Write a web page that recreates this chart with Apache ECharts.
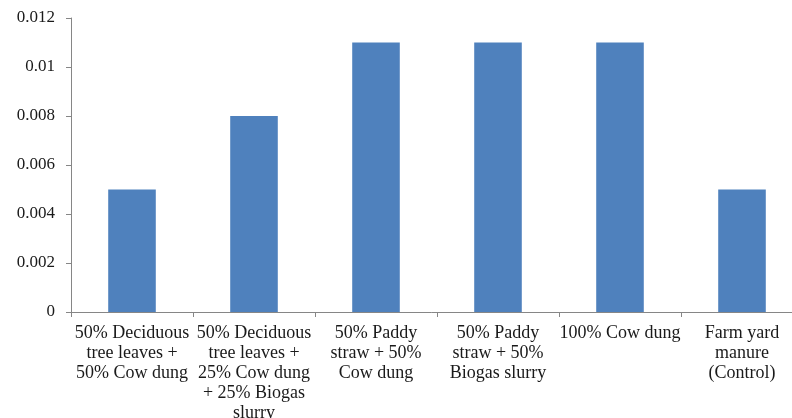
<!DOCTYPE html>
<html>
<head>
<meta charset="utf-8">
<script src="https://cdn.jsdelivr.net/npm/echarts@6/dist/echarts.min.js"></script>
<style>
  html, body { margin: 0; padding: 0; background: #fff; }
  #chart { width: 792px; height: 418px; }
</style>
</head>
<body>
<div id="chart"></div>
<script>
// Treatments (category labels, broken over lines as printed)
const categories = [
  '50% Deciduous\ntree leaves +\n50% Cow dung',
  '50% Deciduous\ntree leaves +\n25% Cow dung\n+ 25% Biogas\nslurry',
  '50% Paddy\nstraw + 50%\nCow dung',
  '50% Paddy\nstraw + 50%\nBiogas slurry',
  '100% Cow dung',
  'Farm yard\nmanure\n(Control)'
];
// Measured value per treatment
const values = [0.005, 0.008, 0.011, 0.011, 0.011, 0.005];
// Value axis range
const yMin = 0, yMax = 0.012, yStep = 0.002;

const serif = '"Liberation Serif", "DejaVu Serif", serif';
const chart = echarts.init(document.getElementById('chart'));
chart.setOption({
  animation: false,
  grid: {
    left: 71, right: -11, top: 18, bottom: 106,
    containLabel: false,
    outerBoundsMode: 'none'
  },
  xAxis: {
    type: 'category',
    data: categories,
    axisLine: { lineStyle: { color: '#868686', width: 1 } },
    axisTick: { show: true, length: 5, lineStyle: { color: '#868686' } },
    axisLabel: {
      interval: 0,
      margin: 11,
      color: '#1a1a1a',
      fontFamily: serif,
      fontSize: 18,
      lineHeight: 20
    }
  },
  yAxis: {
    type: 'value',
    min: yMin,
    max: yMax,
    interval: yStep,
    axisLine: { show: true, lineStyle: { color: '#868686', width: 1 } },
    axisTick: { show: true, length: 5, lineStyle: { color: '#868686' } },
    splitLine: { show: false },
    axisLabel: {
      margin: 16,
      color: '#1a1a1a',
      fontFamily: serif,
      fontSize: 17,
      formatter: v => String(Number(v.toFixed(3)))
    }
  },
  series: [{
    type: 'bar',
    data: values,
    barWidth: '39%',
    itemStyle: { color: '#4F81BD' }
  }]
});
</script>
</body>
</html>
